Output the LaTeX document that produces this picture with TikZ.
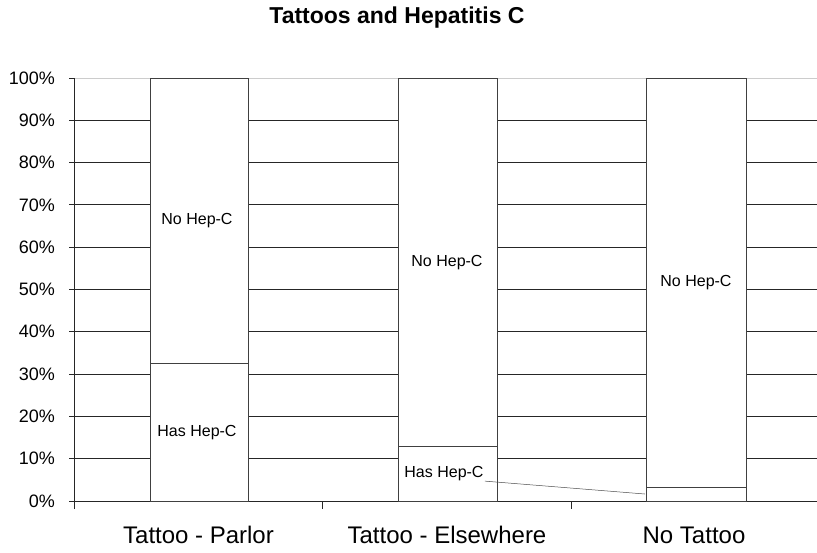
\documentclass[tikz,border=0pt]{standalone}
\usepackage{fontspec}
\setmainfont{Liberation Sans}
\usetikzlibrary{positioning}

\begin{document}
\begin{tikzpicture}[x=1pt, y=1pt,
        grid line/.style={draw=black!85, line width=0.9pt},
        bar seg/.style={draw=black!75, fill=white, line width=0.9pt},
        seg label/.style={font=\fontsize{16}{18}\selectfont, inner sep=1pt},
        tick label/.style={font=\fontsize{18}{20}\selectfont, anchor=east, inner sep=0pt},
        cat label/.style={font=\fontsize{24}{28}\selectfont, anchor=base, inner sep=0pt}]

        \useasboundingbox (0,0) rectangle (817,552);
        \node [font=\bfseries\fontsize{23}{27}\selectfont] (title) at (397,534) {Tattoos and Hepatitis C};

        \begin{scope}[shift={(0,51)}, y=4.23pt]
        % gridlines and value axis
        \foreach \p in {0,10,...,90}
            \draw [grid line] (74,\p) -- (817,\p);
        \draw [black!20, line width=0.9pt] (74,100) -- (817,100);
        \draw [grid line] (74,-1.9) -- (74,100);
        \foreach \p in {0,10,...,100} {
            \draw [grid line] (69,\p) -- (74,\p);
            \node [tick label] (tick\p) at (55,\p) {\p\%};
        }
        \foreach \x in {322.5,571}
            \draw [grid line] (\x,0) -- (\x,-1.9);

        % bars
        \draw [bar seg] (150,0) rectangle (248,32.4);
        \draw [bar seg] (150,32.4) rectangle (248,100);
        \draw [bar seg] (398,0) rectangle (497,12.8);
        \draw [bar seg] (398,12.8) rectangle (497,100);
        \draw [bar seg] (646,0) rectangle (746,3.1);
        \draw [bar seg] (646,3.1) rectangle (746,100);

        % segment labels
        \node [seg label] (parlorNo) at (197,66.2) {No Hep-C};
        \node [seg label] (parlorHas) at (197,16.2) {Has Hep-C};
        \node [seg label] (elseNo) at (447,56.4) {No Hep-C};
        \node [seg label] (elseHas) at (444,6.4) {Has Hep-C};
        \node [seg label] (noneNo) at (696,51.55) {No Hep-C};
        \coordinate (noneHas) at (645,1.65);
        \draw [black!70, line width=0.5pt] (elseHas.east |- 0,4.7) -- (noneHas);

        % categories
        \node [cat label] (parlor) at (198.5,-9.93) {Tattoo - Parlor};
        \node [cat label] (elsewhere) at (447,-9.93) {Tattoo - Elsewhere};
        \node [cat label] (notattoo) at (694,-9.93) {No Tattoo};
        \end{scope}
    \end{tikzpicture}
\end{document}
